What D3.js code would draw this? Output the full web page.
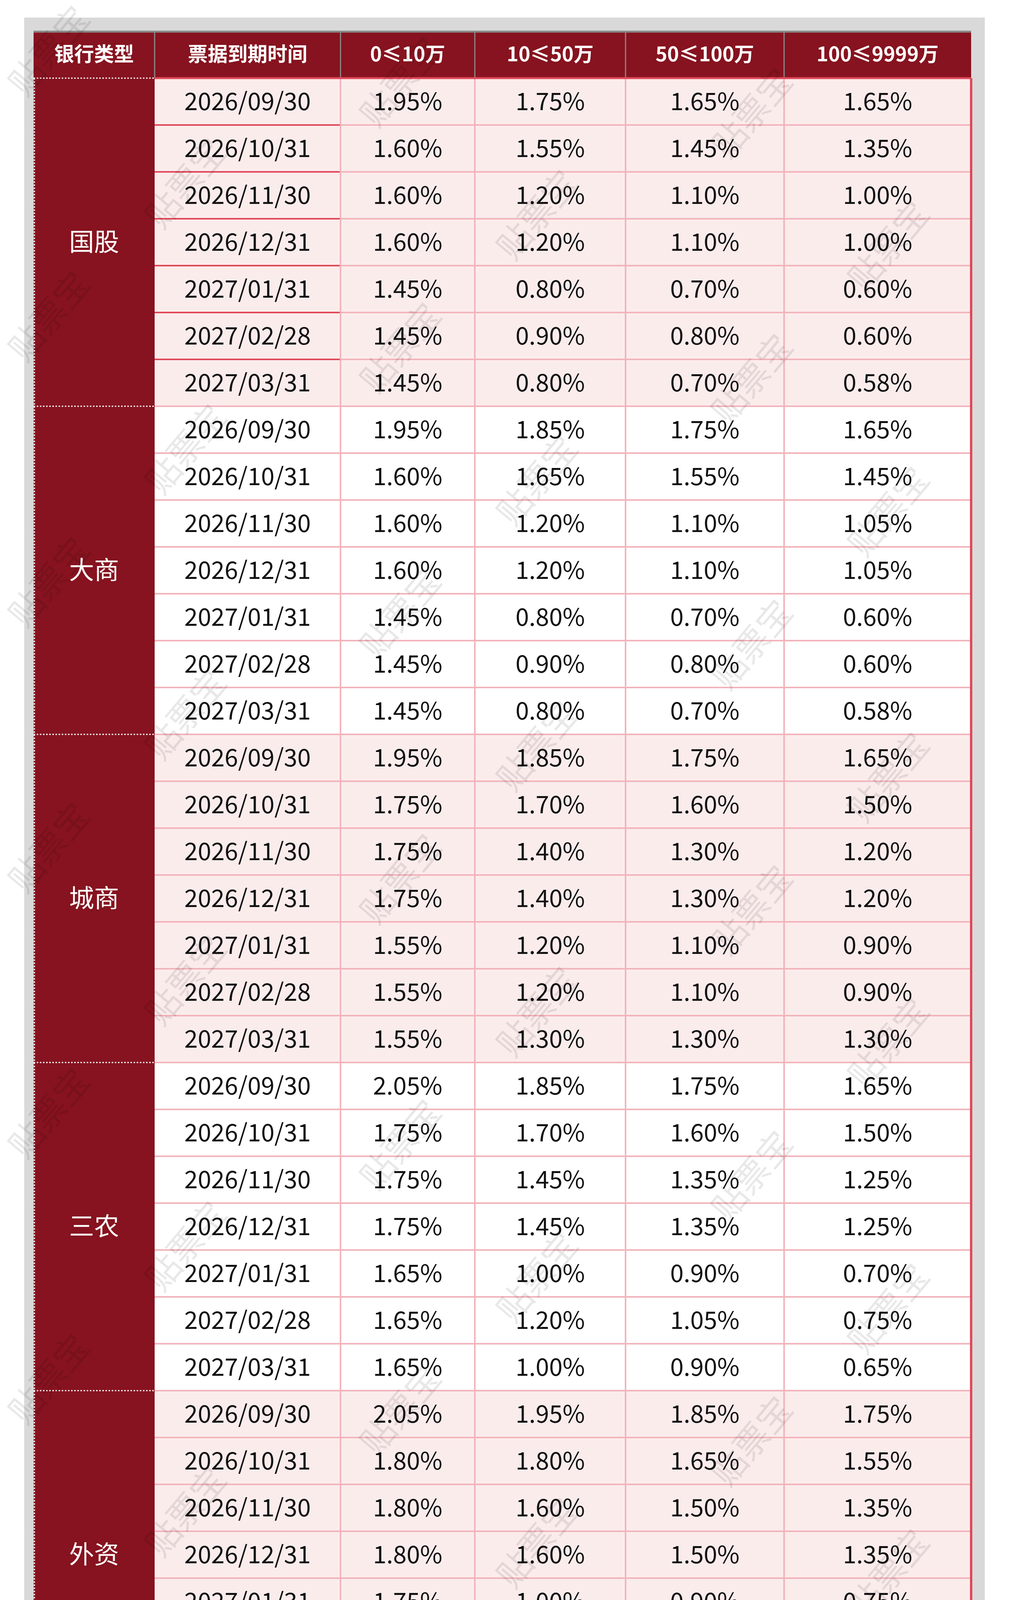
<!DOCTYPE html>
<html><head><meta charset="utf-8">
<script src="https://cdn.jsdelivr.net/npm/d3@7"></script>
<style>html,body{margin:0;padding:0;background:#fff}svg{display:block}</style>
</head><body><svg id="chart"></svg>
<script>
const bankTypes = ["国股", "大商", "城商", "三农", "外资", "民营"];
const dates = ["2026/09/30", "2026/10/31", "2026/11/30", "2026/12/31", "2027/01/31", "2027/02/28", "2027/03/31"];
const headers = ["银行类型", "票据到期时间", "0≤10万", "10≤50万", "50≤100万", "100≤9999万"];
// one row per date: [0≤10万, 10≤50万, 50≤100万, 100≤9999万]
const guogu = [[1.95,1.75,1.65,1.65],[1.60,1.55,1.45,1.35],[1.60,1.20,1.10,1.00],[1.60,1.20,1.10,1.00],[1.45,0.80,0.70,0.60],[1.45,0.90,0.80,0.60],[1.45,0.80,0.70,0.58]];
const dashang = [[1.95,1.85,1.75,1.65],[1.60,1.65,1.55,1.45],[1.60,1.20,1.10,1.05],[1.60,1.20,1.10,1.05],[1.45,0.80,0.70,0.60],[1.45,0.90,0.80,0.60],[1.45,0.80,0.70,0.58]];
const chengshang = [[1.95,1.85,1.75,1.65],[1.75,1.70,1.60,1.50],[1.75,1.40,1.30,1.20],[1.75,1.40,1.30,1.20],[1.55,1.20,1.10,0.90],[1.55,1.20,1.10,0.90],[1.55,1.30,1.30,1.30]];
const sannong = [[2.05,1.85,1.75,1.65],[1.75,1.70,1.60,1.50],[1.75,1.45,1.35,1.25],[1.75,1.45,1.35,1.25],[1.65,1.00,0.90,0.70],[1.65,1.20,1.05,0.75],[1.65,1.00,0.90,0.65]];
const waizi = [[2.05,1.95,1.85,1.75],[1.80,1.80,1.65,1.55],[1.80,1.60,1.50,1.35],[1.80,1.60,1.50,1.35],[1.75,1.00,0.90,0.75],[1.75,1.20,1.10,0.80],[1.75,1.00,0.90,0.70]];
const minying = [[2.05,1.95,1.85,1.75],[1.80,1.80,1.70,1.60],[1.80,1.60,1.50,1.40],[1.80,1.60,1.50,1.40],[1.75,1.05,0.95,0.80],[1.75,1.20,1.10,0.90],[1.75,1.05,0.95,0.75]];
const rates = [guogu, dashang, chengshang, sannong, waizi, minying];

const W = 2584, H = 5424;
const font = "'Noto Sans CJK SC','Noto Sans',sans-serif";
const svg = d3.select("#chart").attr("width", W).attr("height", H);
const red = "#86131f", line = "#f2b4bb", strong = "#e04858";

svg.append("rect").attr("x", 62).attr("y", 45).attr("width", 2460).attr("height", 5305).attr("fill", "#d9d9d9");

const colEdges = [86, 396, 872, 1216, 1602, 2008, 2487];
const x0 = i => colEdges[i], cw = i => colEdges[i + 1] - colEdges[i];
const tableTop = 79, headH = 121, tableBottom = 5240;
const rowIdx = d3.range(bankTypes.length * dates.length);
const y = d3.scaleBand().domain(rowIdx).range([tableTop + headH, tableBottom]);

// header
svg.append("rect").attr("x", 86).attr("y", tableTop).attr("width", 2401).attr("height", headH).attr("fill", red);
svg.append("line").attr("x1", 86).attr("x2", 2487).attr("y1", tableTop + 2).attr("y2", tableTop + 2).attr("stroke", "#888").attr("stroke-width", 5);
headers.forEach((h, i) => {
  if (i > 0) svg.append("line").attr("x1", x0(i)).attr("x2", x0(i)).attr("y1", tableTop).attr("y2", tableTop + headH).attr("stroke", "#888").attr("stroke-width", 3);
  svg.append("text").attr("x", x0(i) + cw(i) / 2).attr("y", tableTop + headH / 2).attr("dy", "0.35em")
    .attr("text-anchor", "middle").attr("font-family", font).attr("font-weight", "bold").attr("font-size", 51).attr("fill", "#fff").text(h);
});

// body rows
bankTypes.forEach((b, g) => {
  const g0 = g * dates.length;
  const bg = g % 2 === 0 ? "#fbecec" : "#ffffff";
  dates.forEach((d, r) => {
    const k = g0 + r, yy = y(k);
    svg.append("rect").attr("x", x0(1)).attr("y", yy).attr("width", colEdges[6] - x0(1)).attr("height", y.bandwidth()).attr("fill", bg);
    const vals = [d].concat(rates[g][r].map(v => v.toFixed(2) + "%"));
    vals.forEach((v, c) => {
      svg.append("text").attr("x", x0(c + 1) + cw(c + 1) / 2).attr("y", yy + y.bandwidth() / 2).attr("dy", "0.36em")
        .attr("text-anchor", "middle").attr("font-family", font).attr("font-size", 62).attr("fill", "#111").text(v);
    });
  });
});

// grid lines
rowIdx.forEach(k => {
  if (k === 0) return;
  svg.append("line").attr("x1", x0(1)).attr("x2", 2487).attr("y1", y(k)).attr("y2", y(k)).attr("stroke", line).attr("stroke-width", 4);
  if (k < dates.length) svg.append("line").attr("x1", x0(1)).attr("x2", x0(2)).attr("y1", y(k)).attr("y2", y(k)).attr("stroke", strong).attr("stroke-width", 4);
});
for (let c = 2; c < 6; c++) svg.append("line").attr("x1", x0(c)).attr("x2", x0(c)).attr("y1", tableTop + headH).attr("y2", tableBottom).attr("stroke", line).attr("stroke-width", 4);
svg.append("line").attr("x1", x0(1)).attr("x2", 2487).attr("y1", tableTop + headH).attr("y2", tableTop + headH).attr("stroke", strong).attr("stroke-width", 5);

// bank type column
bankTypes.forEach((b, g) => {
  const ya = y(g * dates.length), yb = y((g + 1) * dates.length - 1) + y.bandwidth();
  svg.append("rect").attr("x", 86).attr("y", ya).attr("width", cw(0)).attr("height", yb - ya).attr("fill", red);
  svg.append("line").attr("x1", 86).attr("x2", x0(1)).attr("y1", ya).attr("y2", ya).attr("stroke", "#fff").attr("stroke-width", 3).attr("stroke-dasharray", "4,4");
  svg.append("text").attr("x", 86 + cw(0) / 2).attr("y", (ya + yb) / 2).attr("dy", "0.35em").attr("text-anchor", "middle")
    .attr("font-family", font).attr("font-size", 64).attr("fill", "#fff").text(b);
});
svg.append("line").attr("x1", 88).attr("x2", 88).attr("y1", tableTop + headH).attr("y2", tableBottom).attr("stroke", "#fff").attr("stroke-width", 3).attr("stroke-dasharray", "4,4");

// outer red border right/bottom
svg.append("line").attr("x1", 2487).attr("x2", 2487).attr("y1", tableTop + headH).attr("y2", tableBottom + 2).attr("stroke", strong).attr("stroke-width", 6);
svg.append("line").attr("x1", x0(1)).attr("x2", 2490).attr("y1", tableBottom).attr("y2", tableBottom).attr("stroke", strong).attr("stroke-width", 6);

// watermark
const wm = svg.append("g").attr("pointer-events", "none");
for (let r = 0; r < 16; r++) for (let c = 0; c < 4; c++) {
  const wx = 150 + c * 900 + (r % 2) * 350, wy = 150 + r * 340 + c * 80;
  wm.append("text").attr("transform", `translate(${wx},${wy}) rotate(-50)`).attr("font-family", font).attr("font-size", 88)
    .attr("fill", "#000").attr("fill-opacity", 0.09).attr("text-anchor", "middle").text("贴票宝");
}

// source
svg.append("text").attr("x", 2040).attr("y", 5292).attr("text-anchor", "middle").attr("font-family", font)
  .attr("font-style", "italic").attr("font-size", 48).attr("fill", "#2a3a6e").text("来源：  贴票宝官网");
</script></body></html>
